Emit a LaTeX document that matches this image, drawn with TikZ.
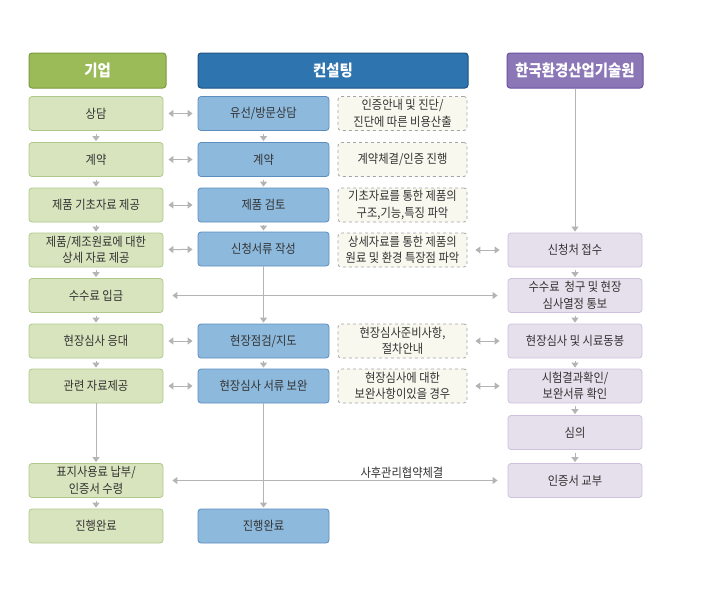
\documentclass[tikz,border=0pt]{standalone}
\usepackage{fontspec}
\setmainfont{Noto Sans CJK KR}[FakeStretch=0.9]
\usetikzlibrary{arrows.meta,positioning}
\definecolor{hdA}{HTML}{9BBB59}  \definecolor{hdAln}{HTML}{7A9A3E}
\definecolor{hdB}{HTML}{2E75B0}  \definecolor{hdBln}{HTML}{1F5282}
\definecolor{hdC}{HTML}{8B76B6}  \definecolor{hdCln}{HTML}{6A52A0}
\definecolor{firmbg}{HTML}{D8E4BD} \definecolor{firmln}{HTML}{AFC98A}
\definecolor{consbg}{HTML}{8DB9DC} \definecolor{consln}{HTML}{5B8EBF}
\definecolor{keitibg}{HTML}{E6E0EC} \definecolor{keitiln}{HTML}{CDC1DC}
\definecolor{notebg}{HTML}{F8F8EF} \definecolor{noteln}{HTML}{A5A5A5}
\definecolor{arln}{HTML}{B4B4B4}
\definecolor{txt}{HTML}{333333}
\tikzset{
  head/.style ={draw,rounded corners=3pt,line width=1pt,minimum height=35pt,inner sep=0pt,
                text=white,font=\fontsize{16}{18}\selectfont\bfseries},
  box/.style  ={draw,rounded corners=3pt,line width=0.8pt,minimum height=34pt,inner sep=0pt,
                align=center,text=txt,font=\fontsize{12.5}{16.5}\selectfont},
  firm/.style ={box,fill=firmbg,draw=firmln,minimum width=134pt},
  cons/.style ={box,fill=consbg,draw=consln,minimum width=131pt},
  keiti/.style={box,fill=keitibg,draw=keitiln,minimum width=134pt},
  note/.style ={box,fill=notebg,draw=noteln,dashed,minimum width=129pt},
  ar/.style   ={draw=arln,fill=arln,line width=1pt,-{Triangle[length=5pt,width=7pt]},shorten >=1pt},
  sar/.style  ={ar,shorten <=3pt},
  dar/.style  ={draw=arln,fill=arln,line width=1pt,
                {Triangle[length=5pt,width=7pt]}-{Triangle[length=5pt,width=7pt]}},
  lbl/.style  ={text=txt,font=\fontsize{12.5}{14}\selectfont,inner sep=1.5pt},
}
\begin{document}
\begin{tikzpicture}[x=1pt,y=-1pt]
  \useasboundingbox (0,0) rectangle (706,600);
  % headers
  \node[head,fill=hdA,draw=hdAln,minimum width=137pt] (hA) at (97.5,70.5) {기업};
  \node[head,fill=hdB,draw=hdBln,minimum width=270pt] (hB) at (333,70.5) {컨설팅};
  \node[head,fill=hdC,draw=hdCln,minimum width=136pt] (hC) at (575,70.5) {한국환경산업기술원};
  % 기업
  \foreach \n/\y/\t in {1/113.5/상담, 2/159.5/계약, 3/205/제품 기초자료 제공,
      4/250/{제품/제조원료에 대한\\상세 자료 제공}, 5/295.5/수수료 입금, 6/341/현장심사 응대,
      7/386/관련 자료제공, 9/480.5/{표지사용료 납부/\\인증서 수령}, 10/526/진행완료}
    {\node[firm] (a\n) at (96,\y) {\t};}
  % 컨설팅
  \foreach \n/\y/\t in {1/113.5/{유선/방문상담}, 2/159.5/계약, 3/205/제품 검토,
      4/249/신청서류 작성, 6/341/{현장점검/지도}, 7/386/현장심사 서류 보완, 10/526/진행완료}
    {\node[cons] (b\n) at (263.5,\y) {\t};}
  \foreach \n/\y/\t in {1/113.5/{인증안내 및 진단/\\진단에 따른 비용산출}, 2/159.5/{계약체결/인증 진행},
      3/205/{기초자료를 통한 제품의\\구조,기능,특징 파악}, 4/250/{상세자료를 통한 제품의\\원료 및 환경 특장점 파악},
      6/341/{현장심사준비사항,\\절차안내}, 7/386/{현장심사에 대한\\보완사항이있을 경우}}
    {\node[note] (n\n) at (402.5,\y) {\t};}
  % 한국환경산업기술원
  \foreach \n/\y/\t in {4/250/신청처 접수, 5/295.5/{수수료\ \ 청구 및 현장\\심사열정 통보},
      6/341/현장심사 및 시료동봉, 7/386/{시험결과확인/\\보완서류 확인}, 8/432.5/심의, 9/480.5/인증서 교부}
    {\node[keiti] (c\n) at (575,\y) {\t};}
  % flow down
  \foreach \i/\j in {1/2,2/3,3/4,4/5,5/6,6/7,9/10} {\draw[sar] (a\i.south) -- (a\j.north);}
  \foreach \i/\j in {1/2,2/3,3/4,6/7} {\draw[sar] (b\i.south) -- (b\j.north);}
  \foreach \i/\j in {4/5,5/6,6/7,7/8,8/9} {\draw[sar] (c\i.south) -- (c\j.north);}
  \draw[ar] (a7.south) -- (a9.north);
  \draw[ar] (b4.south) -- (b6.north);
  \draw[ar] (b7.south) -- (b10.north);
  \draw[ar] (hC.south) -- (c4.north);
  % across
  \foreach \i in {1,2,3,4,6,7} {\draw[dar,shorten <=5pt,shorten >=5pt] (a\i) -- (b\i);}
  \foreach \i in {4,6,7} {\draw[dar,shorten <=8pt,shorten >=8pt] (n\i) -- (c\i);}
  \draw[dar,shorten <=9pt,shorten >=10pt] (a5) -- (c5);
  \draw[dar,shorten <=9pt,shorten >=10pt] (a9) -- (c9) node[lbl,above,pos=0.693] (post) {사후관리협약체결};
\end{tikzpicture}
\end{document}
